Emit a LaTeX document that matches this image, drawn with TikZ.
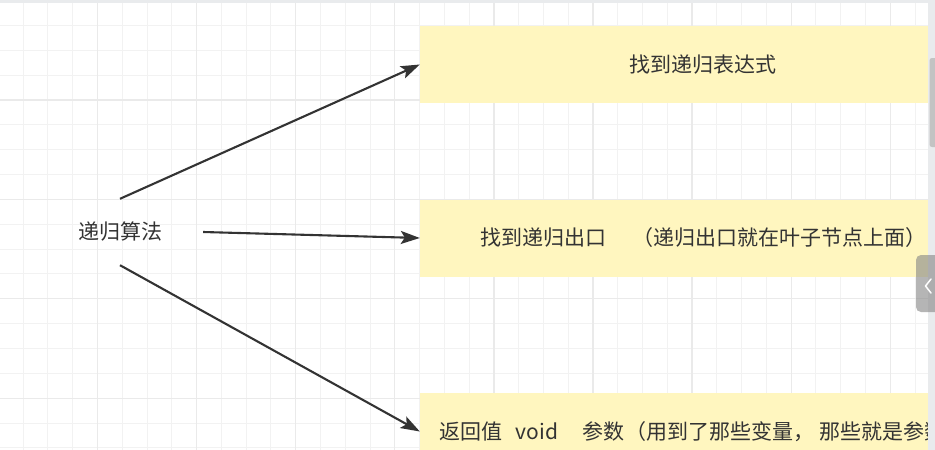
\documentclass[tikz,border=0pt]{standalone}
\usepackage{fontspec}
\newfontfamily\cjk{Noto Sans CJK SC}
\usetikzlibrary{arrows.meta}
\definecolor{ink}{HTML}{333333}
\definecolor{paper}{HTML}{FFF6BF}
\definecolor{gridminor}{HTML}{F2F2F2}
\definecolor{gridmajor}{HTML}{EAEAEA}
\definecolor{barbg}{HTML}{E9EBED}
\definecolor{thumbgray}{HTML}{C3C3C3}
\definecolor{tabgray}{HTML}{858585}
\begin{document}
\begin{tikzpicture}[x=1pt,y=-1pt,
  txt/.style={font=\cjk\fontsize{21}{25}\selectfont, text=ink, inner sep=0pt},
  notebox/.style={txt, fill=paper, minimum width=566pt, minimum height=77pt},
  link/.style={draw=ink, line width=2.1pt, -{Stealth[length=19pt,width=13pt,inset=4pt]}},
  gminor/.style={draw=gridminor, line width=1pt},
  gmajor/.style={draw=gridmajor, line width=1.3pt}]
\useasboundingbox (0,0) rectangle (935,450);
\clip (0,0) rectangle (935,450);
\fill[white] (0,0) rectangle (935,450);
% grid
\foreach \j in {-4,...,34} {\draw[gminor] ({97.5+24.775*\j},0) -- ({97.5+24.775*\j},450);}
\foreach \j in {-5,...,14} {\draw[gminor] (0,{100+24.85*\j}) -- (935,{100+24.85*\j});}
\foreach \j in {-1,...,8} {\draw[gmajor] ({97.5+99.1*\j},0) -- ({97.5+99.1*\j},450);}
\foreach \j in {-1,...,3} {\draw[gmajor] (0,{100+99.4*\j}) -- (935,{100+99.4*\j});}
% nodes
\node[txt, minimum width=166pt, minimum height=66pt] (src) at (120,232) {递归算法};
\node[notebox] (b1) at (703,64.5) {找到递归表达式};
\node[notebox] (b2) at (703,238) {找到递归出口\hspace{26pt}（递归出口就在叶子节点上面）};
\node[notebox] (b3) at (703,431.5) {返回值\hspace{13pt}void\hspace{24pt}参数\hspace{1pt}（用到了那些变量，\hspace{5pt}那些就是参数）};
% connectors
\draw[link] (src.north) -- (b1.west);
\draw[link] (src.east) -- (b2.west);
\draw[link] (src.south) -- (b3.west);
% window chrome
\fill[barbg] (0,0) rectangle (935,3);
\fill[barbg] (928,0) rectangle (935,450);
\fill[thumbgray, rounded corners=2.5pt] (929.5,58) rectangle (938,147);
\fill[tabgray, fill opacity=0.6, rounded corners=5pt] (916,255) rectangle (945,312);
\draw[white, line width=1.5pt, line cap=round, line join=round] (931,279) -- (925.5,286) -- (931,293);
\end{tikzpicture}
\end{document}
